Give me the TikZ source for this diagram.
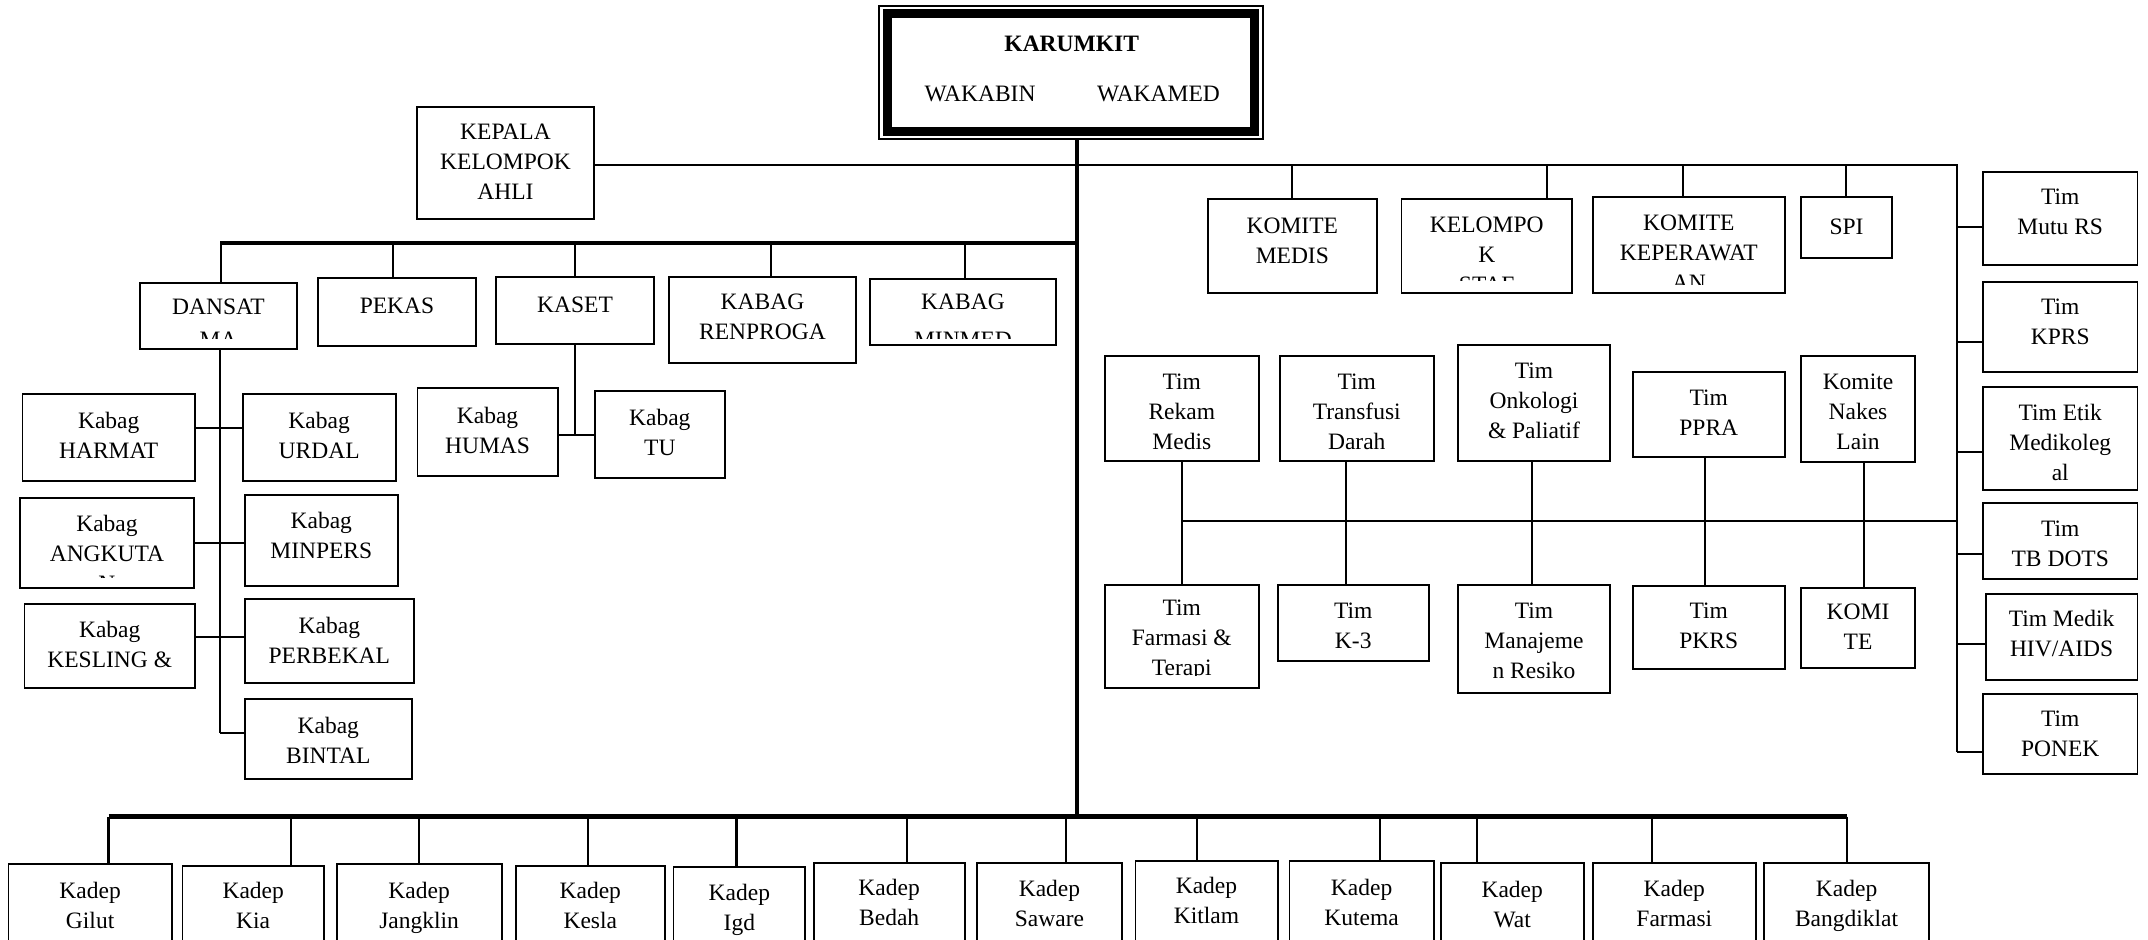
\documentclass[tikz,border=0pt]{standalone}
\usepackage{fontspec}
\setmainfont{Liberation Serif}
\usetikzlibrary{calc}
\newcommand\ff{\fontsize{23.5}{30}\selectfont}
\newcommand\mystrut{\rule[-9pt]{0pt}{30pt}}
\tikzset{
  box/.style={draw, line width=1.8pt, inner sep=0pt},
  txt/.style={anchor=north, inner sep=0pt, align=center, yshift=17pt, font=\ff,
    execute at begin node=\mystrut, execute at end node=\mystrut},
  conn/.style={line width=1.8pt},
  stub/.style={line width=2.2pt},
  bus/.style={line width=4.5pt},
  trunk/.style={line width=4pt},
  drop/.style={line width=2.6pt}
}
% name, x1, y1, x2, y2, first baseline, text
\newcommand\bx[7]{%
  \node[box, minimum width={(#4)-(#2)}, minimum height={(#5)-(#3)}] (#1) at ({((#2)+(#4))/2},{((#3)+(#5))/2}) {};
  \node[txt] (#1t) at ({((#2)+(#4))/2},#6) {#7};}
% same, with text clipped at y = #8
\newcommand\bxc[8]{%
  \node[box, minimum width={(#4)-(#2)}, minimum height={(#5)-(#3)}] (#1) at ({((#2)+(#4))/2},{((#3)+(#5))/2}) {};
  \begin{scope}
    \clip (#2,#3) rectangle (#4,#8);
    \node[txt] (#1t) at ({((#2)+(#4))/2},#6) {#7};
  \end{scope}}
\begin{document}
\begin{tikzpicture}[x=1pt,y=-1pt]
\fill[white] (0,0) rectangle (2148,940);
\useasboundingbox (0,0) rectangle (2148,940);
\clip (0,0) rectangle (2148,940);

% ---- top box
\node[draw, line width=2pt, inner sep=0pt, minimum width=383.7, minimum height=133] (karumkit) at (1071.15,72.5) {};
\node[draw, line width=9pt, inner sep=0pt, minimum width=366.7, minimum height=117.1] (karumkitin) at (karumkit.center) {};
\node[anchor=base, inner sep=0pt, font=\ff\bfseries] (karumkitt) at (1071.7,51.5) {KARUMKIT};
\node[anchor=base, inner sep=0pt, font=\ff] (wakabin) at (980,101) {WAKABIN};
\node[anchor=base, inner sep=0pt, font=\ff] (wakamed) at (1158.5,101) {WAKAMED};

% ---- left upper
\bx{kepala}{417}{107}{594}{219}{141}{KEPALA\\KELOMPOK\\AHLI}
\bxc{dansat}{140}{283}{297}{349}{316}{DANSAT\\[3pt]MA}{338}
\bx{pekas}{318}{278}{476}{346}{309}{PEKAS}
\bx{kaset}{496}{277}{654}{344}{308.5}{KASET}
\bx{renproga}{669}{277}{856}{363}{311}{KABAG\\RENPROGA}
\bxc{minmed}{870}{279}{1056}{345}{310.7}{KABAG\\[8pt]MINMED}{338}

\bx{harmat}{22.4}{394}{195}{481}{428.5}{Kabag\\HARMAT}
\bx{urdal}{242.7}{394}{395.6}{481}{428.5}{Kabag\\URDAL}
\bxc{angkutan}{20.3}{498}{193.6}{588}{531.7}{Kabag\\ANGKUTA\\N}{577.3}
\bx{minpers}{244.8}{495}{397.8}{586}{529}{Kabag\\MINPERS}
\bx{kesling}{24.5}{604}{195}{688}{638}{Kabag\\KESLING \&}
\bx{perbekal}{244.8}{599}{413.9}{683}{634}{Kabag\\PERBEKAL}
\bx{bintal}{244.8}{699}{411.8}{779}{734}{Kabag\\BINTAL}
\bx{humas}{417.4}{388}{557.7}{476}{424}{Kabag\\HUMAS}
\bx{tu}{594.9}{391}{724.7}{478}{426}{Kabag\\TU}

% ---- right upper
\bx{kmedis}{1207.6}{199}{1377}{293}{235}{KOMITE\\MEDIS}
\bxc{kstaf}{1401.5}{199}{1572}{293}{234}{KELOMPO\\K\\STAF}{280.7}
\bxc{kkep}{1592.7}{197}{1785}{293}{231.7}{KOMITE\\KEPERAWAT\\AN}{284}
\bx{spi}{1801}{197}{1892}{258}{230.5}{SPI}

\bx{mutu}{1983}{172}{2137.5}{265}{206}{Tim\\Mutu RS}
\bx{kprs}{1983}{282}{2137.5}{372}{316}{Tim\\KPRS}
\bx{etik}{1983}{387}{2137.5}{490}{421}{Tim Etik\\Medikoleg\\al}
\bx{tbdots}{1983}{503}{2137.5}{579}{538}{Tim\\TB DOTS}
\bx{hiv}{1985.6}{594}{2137.5}{680}{627}{Tim Medik\\HIV/AIDS}
\bx{ponek}{1983}{694}{2137.5}{774}{728}{Tim\\PONEK}

\bx{rekam}{1104.6}{356}{1259}{461}{391}{Tim\\Rekam\\Medis}
\bx{transfusi}{1279.7}{356}{1433.8}{461}{391}{Tim\\Transfusi\\Darah}
\bx{onkologi}{1458}{345}{1610}{461}{380}{Tim\\Onkologi\\\& Paliatif}
\bx{ppra}{1633}{372}{1784.6}{457}{407}{Tim\\PPRA}
\bx{nakes}{1801}{356}{1915}{462}{391}{Komite\\Nakes\\Lain}
\bxc{farmasi}{1104.6}{585}{1259}{688}{617}{Tim\\Farmasi \&\\Terapi}{675}
\bx{k3}{1277.6}{585}{1428.9}{661}{620}{Tim\\K-3}
\bx{manajemen}{1458}{585}{1610}{693}{620}{Tim\\Manajeme\\n Resiko}
\bx{pkrs}{1633}{586}{1784.6}{669}{620}{Tim\\PKRS}
\bx{komite}{1801}{588}{1915}{668}{621}{KOMI\\TE}

% ---- bottom row
\bx{gilut}{8.4}{864}{171.9}{960}{899}{Kadep\\Gilut}
\bx{kia}{182.4}{866}{324}{960}{899}{Kadep\\Kia}
\bx{jangklin}{336.7}{864}{501.6}{960}{898.5}{Kadep\\Jangklin}
\bx{kesla}{515.6}{866}{665}{960}{898.5}{Kadep\\Kesla}
\bx{igd}{673.5}{866.7}{805.3}{960}{901}{Kadep\\Igd}
\bx{bedah}{813.7}{862.7}{964.6}{960}{896}{Kadep\\Bedah}
\bx{saware}{977}{862.7}{1122}{960}{896.5}{Kadep\\Saware}
\bx{kitlam}{1135.4}{861}{1277.6}{960}{894}{Kadep\\Kitlam}
\bx{kutema}{1289.5}{861}{1433.8}{960}{896}{Kadep\\Kutema}
\bx{wat}{1440.8}{862.7}{1583.6}{960}{898}{Kadep\\Wat}
\bx{kfarmasi}{1592.7}{862.7}{1755.9}{960}{896.5}{Kadep\\Farmasi}
\bx{bangdiklat}{1764.3}{862.7}{1928.9}{960}{896.5}{Kadep\\Bangdiklat}

% ---- connectors
\coordinate (bbus) at (1077,816.7);
\draw[trunk] (karumkit.south -| bbus) -- (bbus);

% upper left bus
\coordinate (ubL) at (220,243);
\coordinate (ubR) at (1077,243);
\draw[bus] (ubL) -- (ubR);
\foreach \x/\nm in {221/dansat, 393/pekas, 575/kaset, 771/renproga, 965/minmed}{
  \coordinate (u\nm) at (\x,243);
  \draw[conn] (u\nm) -- (u\nm |- \nm.north);
}
% DANSAT spine
\coordinate (dsp) at (220,733);
\draw[conn] (dansat.south -| dsp) -- (dsp);
\draw[stub] (dsp) -- (bintal.west |- dsp);
\foreach \yy/\a/\b in {428/harmat/urdal, 543/angkutan/minpers, 637/kesling/perbekal}{
  \coordinate (sy) at (0,\yy);
  \draw[stub] (\a.east |- sy) -- (\b.west |- sy);
}
% KASET spine
\coordinate (ksp) at (575,435);
\draw[conn] (kaset.south -| ksp) -- (ksp);
\draw[stub] (humas.east |- ksp) -- (tu.west |- ksp);

% KEPALA line and right spine
\coordinate (kR) at (1957,165);
\coordinate (kB) at (1957,752);
\draw[conn] (kepala.east |- kR) -- (kR) -- (kB);
\foreach \x/\nm in {1292/kmedis, 1547/kstaf, 1683/kkep, 1846/spi}{
  \coordinate (r\nm) at (\x,165);
  \draw[conn] (r\nm) -- (r\nm |- \nm.north);
}
\foreach \yy/\nm in {227/mutu, 342/kprs, 452/etik, 554/tbdots, 644/hiv, 752/ponek}{
  \coordinate (q\nm) at (1957,\yy);
  \draw[stub] (q\nm) -- (q\nm -| \nm.west);
}
% middle horizontal
\coordinate (mhL) at (1182,521);
\coordinate (mhR) at (1957,521);
\draw[conn] (mhL) -- (mhR);
\foreach \x/\a/\b in {1182/rekam/farmasi, 1346/transfusi/k3, 1532/onkologi/manajemen, 1705/ppra/pkrs, 1864/nakes/komite}{
  \coordinate (v\a) at (\x,521);
  \draw[conn] (v\a |- \a.south) -- (v\a |- \b.north);
}

% bottom bus
\coordinate (bL) at (108.7,816.7);
\coordinate (bR) at (1847,816.7);
\draw[bus] (bL) -- (bR);
\foreach \x/\nm in {108.7/gilut, 291/kia, 418.8/jangklin, 587.9/kesla, 736.6/igd, 907/bedah, 1066/saware, 1197/kitlam, 1380/kutema, 1477/wat, 1652/kfarmasi, 1847/bangdiklat}{
  \coordinate (b\nm) at (\x,816.7);
  \draw[drop] (b\nm) -- (b\nm |- \nm.north);
}
\end{tikzpicture}
\end{document}
